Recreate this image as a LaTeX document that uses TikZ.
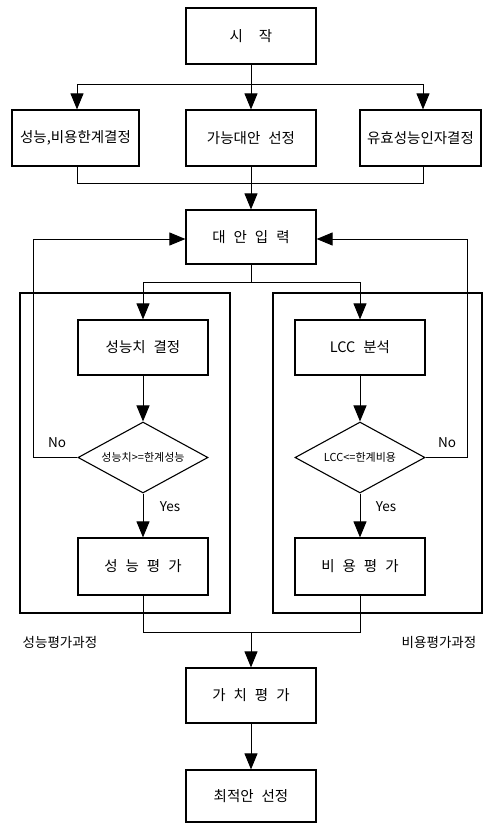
\documentclass[tikz,border=0pt]{standalone}
\usepackage{fontspec}
\setmainfont{Noto Sans CJK KR}
\usetikzlibrary{shapes.geometric,arrows.meta}
\newcommand{\gp}{\hspace{0.55em}}
\begin{document}
\begin{tikzpicture}[x=1pt,y=-1pt,
  box/.style={draw,line width=1.2pt,minimum width=130pt,minimum height=56pt,inner sep=0pt,font=\fontsize{14.5}{16}\selectfont},
  dia/.style={draw,line width=1.1pt,diamond,aspect=1.83,minimum width=130pt,minimum height=71pt,inner sep=0pt,font=\fontsize{11}{13}\selectfont},
  frame/.style={draw,line width=1.2pt},
  ln/.style={line width=1pt},
  arr/.style={line width=1pt,-{Triangle[width=13pt,length=16pt]}},
  lbl/.style={font=\fontsize{13.5}{15}\selectfont,inner sep=0pt}]
\useasboundingbox (0,0) rectangle (489,823);
% nodes
\node[box] (start) at (251,36) {시\gp\gp 작};
\node[box,minimum width=127pt] (b1) at (75.5,138) {성능,비용한계결정};
\node[box] (b2) at (251,138) {가능대안\gp 선정};
\node[box,minimum width=121pt] (b3) at (420.5,138) {유효성능인자결정};
\node[box,minimum height=54pt] (inp) at (251,237) {대\gp 안\gp 입\gp 력};
% frames
\draw[frame] (20,293) rectangle (230,613);
\draw[frame] (273,293) rectangle (482,613);
\node[box,minimum height=55pt] (p1) at (143,347.5) {성능치\gp 결정};
\node[box,minimum height=55pt] (c1) at (360,347.5) {LCC\gp 분석};
\node[dia] (pd) at (143,457.5) {성능치>=한계성능};
\node[dia] (cd) at (360,457.5) {LCC<=한계비용};
\node[box,minimum height=57pt] (p2) at (143,566.5) {성\gp 능\gp 평\gp 가};
\node[box,minimum height=57pt] (c2) at (360,566.5) {비\gp 용\gp 평\gp 가};
\node[box,minimum height=55pt] (val) at (251,695.5) {가\gp 치\gp 평\gp 가};
\node[box,minimum height=52pt] (fin) at (251,796) {최적안\gp 선정};
% coordinates
\coordinate (s1) at (251,84);
\coordinate (s1l) at (77,84);
\coordinate (s1r) at (423,84);
\coordinate (m1l) at (77,183);
\coordinate (m1r) at (423,183);
\coordinate (s2) at (251,282);
\coordinate (s2l) at (143,282);
\coordinate (s2r) at (360,282);
\coordinate (nl) at (33,457.5);
\coordinate (nlt) at (33,239);
\coordinate (nr) at (467,457.5);
\coordinate (nrt) at (467,239);
\coordinate (m2) at (251,632);
\coordinate (m2l) at (143,632);
\coordinate (m2r) at (360,632);
% top branch
\draw[ln] (start.south) -- (s1);
\draw[ln] (s1l) -- (s1r);
\draw[arr] (s1l) -- (s1l |- b1.north);
\draw[arr] (s1) -- (b2.north);
\draw[arr] (s1r) -- (s1r |- b3.north);
% merge
\draw[ln] (m1l |- b1.south) -- (m1l) -- (m1r) -- (m1r |- b3.south);
\draw[arr] (b2.south) -- (inp.north);
% split
\draw[ln] (inp.south) -- (s2);
\draw[ln] (s2l) -- (s2r);
\draw[arr] (s2l) -- (p1.north);
\draw[arr] (s2r) -- (c1.north);
\draw[arr] (p1.south) -- (pd.north);
\draw[arr] (c1.south) -- (cd.north);
\draw[arr] (pd.south) -- (p2.north);
\draw[arr] (cd.south) -- (c2.north);
% feedback
\draw[arr] (pd.west) -- (nl) -- (nlt) -- (inp.west |- nlt);
\draw[arr] (cd.east) -- (nr) -- (nrt) -- (inp.east |- nrt);
% bottom merge
\draw[ln] (p2.south) -- (m2l) -- (m2r) -- (c2.south);
\draw[arr] (m2) -- (val.north);
\draw[arr] (val.south) -- (fin.north);
% labels
\node[lbl] (no1) at (57,443) {No};
\node[lbl] (no2) at (447,443) {No};
\node[lbl] (yes1) at (170,507) {Yes};
\node[lbl] (yes2) at (386,507) {Yes};
\node[lbl] (lp) at (60,642) {성능평가과정};
\node[lbl] (lc) at (439,642) {비용평가과정};
\end{tikzpicture}
\end{document}
